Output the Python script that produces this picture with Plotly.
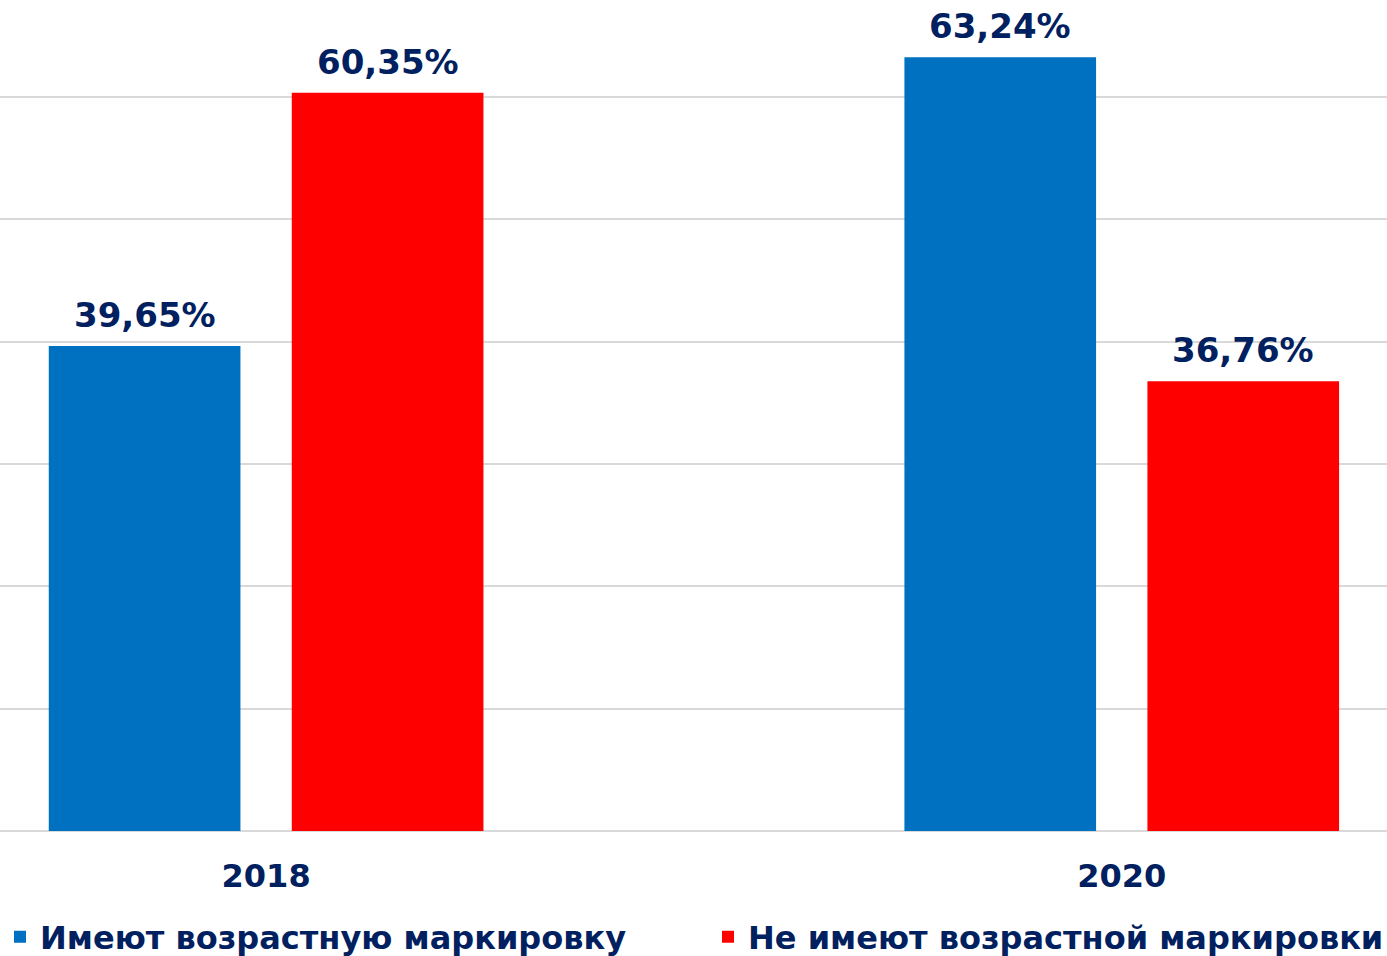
import plotly.graph_objects as go

categories = ["2018", "2020"]
series_names = ["Имеют возрастную маркировку", "Не имеют возрастной маркировки"]
with_label = [39.65, 63.24]
without_label = [60.35, 36.76]
colors = ["#0070C0", "#FF0000"]
text_color = "#002060"
font_family = "DejaVu Sans"

bar_width = 0.224
offsets = [-0.254, 0.030]

fig = go.Figure()
for k, (name, vals, col) in enumerate([
    (series_names[0], with_label, colors[0]),
    (series_names[1], without_label, colors[1]),
]):
    fig.add_trace(go.Bar(
        x=categories, y=vals, name=name,
        marker=dict(color=col, line=dict(width=0)),
        width=bar_width, offset=offsets[k],
        legend="legend" if k == 0 else "legend2",
    ))
    for i, v in enumerate(vals):
        fig.add_annotation(
            x=i + offsets[k] + bar_width / 2, y=v, xref="x", yref="y",
            text=f"{v:.2f}%".replace(".", ","), showarrow=False,
            yanchor="middle", yshift=31,
            font=dict(family=font_family, size=34, color=text_color, weight="bold"),
        )

leg_font = dict(family=font_family, size=32, color=text_color, weight="bold")
fig.update_layout(
    width=1387, height=956,
    margin=dict(l=0, r=0, t=0, b=125, autoexpand=False),
    paper_bgcolor="white", plot_bgcolor="white",
    separators=", ",
    barmode="group",
    showlegend=True,
    legend=dict(
        orientation="h", x=0, xanchor="left", y=-0.1276, yanchor="middle",
        font=leg_font, bgcolor="rgba(0,0,0,0)",
    ),
    legend2=dict(
        orientation="h", x=708 / 1387, xanchor="left", y=-0.1276, yanchor="middle",
        font=leg_font, bgcolor="rgba(0,0,0,0)",
    ),
    xaxis=dict(
        type="category", range=[-0.311, 1.310],
        showgrid=False, showline=False, ticks="",
        tickfont=dict(family=font_family, size=32, color=text_color, weight="bold"),
        ticklabelstandoff=23,
    ),
    yaxis=dict(
        range=[0, 67.93], dtick=10, showticklabels=False,
        showgrid=True, gridcolor="#D9D9D9", gridwidth=2,
        zeroline=True, zerolinecolor="#D9D9D9", zerolinewidth=2,
        showline=False, ticks="",
    ),
)

fig.write_html("out.html")
